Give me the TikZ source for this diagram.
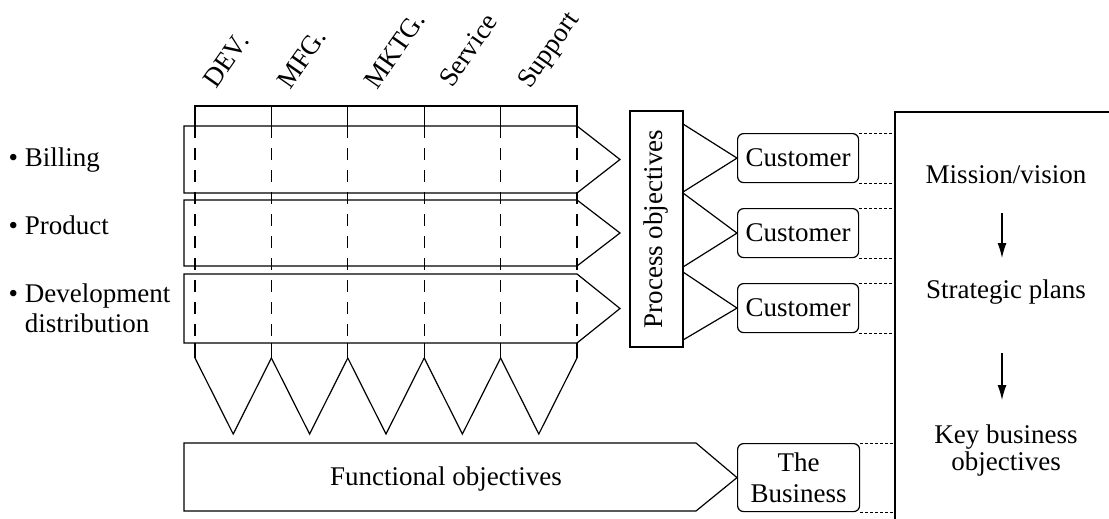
\documentclass[tikz,border=0pt]{standalone}
\usepackage{fontspec}
\setmainfont{Liberation Serif}
\usetikzlibrary{arrows.meta}
\begin{document}
\begin{tikzpicture}[x=1pt,y=-1pt,line width=1.2pt,
  every node/.style={font=\fontsize{27}{29}\selectfont},
  custbox/.style={draw,rounded corners=6pt,minimum width=121pt,minimum height=49pt,
                  inner sep=0pt,anchor=north west},
  tiedots/.style={line width=1pt,dash pattern=on 2.5pt off 2.5pt},
  colline/.style={dash pattern=on 12pt off 10pt},
  colhead/.style={rotate=55,anchor=base west,inner sep=0pt},
  sidetext/.style={inner sep=0pt,align=left},
  flow/.style={-{Latex[length=15pt,width=9pt]},line width=1.2pt}]
\useasboundingbox (0,0) rectangle (1109,519);

% column headings
\node[colhead] (h1) at (216,90) {DEV.};
\node[colhead] (h2) at (290,91) {MFG.};
\node[colhead] (h3) at (377,91) {MKTG.};
\node[colhead] (h4) at (452,89) {Service};
\node[colhead] (h5) at (530,90) {Support};

% heading frame above the process rows
\draw (195,126) -- (195,106) -- (577,106) -- (577,126);
\foreach \i in {1,...,4} \draw ({195+76.4*\i},106) -- ++(0,20);

% process rows drawn as arrows
\foreach \t/\b in {126/193,200/266,274/343}
  \draw (184,\t) -- (577,\t) -- (620,{(\t+\b)/2}) -- (577,\b) -- (184,\b) -- cycle;

% functional columns running through the rows
\foreach \i in {0,...,5} {
  \draw[colline] ({195+76.4*\i},126) -- ({195+76.4*\i},343);
  \draw ({195+76.4*\i},343) -- ({195+76.4*\i},358);
}
\foreach \i in {0,...,4}
  \draw ({195+76.4*\i},358) -- ({233.2+76.4*\i},434) -- ({271.4+76.4*\i},358);

% row labels
\node[sidetext,anchor=base west] (r1) at (8,166) {\textbullet\ Billing};
\node[sidetext,anchor=base west] (r2) at (8,234) {\textbullet\ Product};
\node[sidetext,anchor=west,font=\fontsize{27}{30}\selectfont] (r3) at (8,308)
  {\textbullet\ Development\\\hphantom{\textbullet\ }distribution};

% process objectives
\node[draw,rotate=90,minimum width=236pt,minimum height=53pt,inner sep=0pt]
  (proc) at (656.5,229) {Process objectives};

% customers
\node[custbox] (c1) at (737,133) {Customer};
\node[custbox] (c2) at (737,208) {Customer};
\node[custbox] (c3) at (737,283) {Customer};
\draw (683,124) -- (c1.west) -- (683,192);
\draw (683,193) -- (c2.west) -- (683,267);
\draw (683,272) -- (c3.west) -- (683,340);

% functional objectives and the business
\node[custbox,minimum width=122pt,minimum height=68pt,align=center,
      font=\fontsize{27}{31}\selectfont] (biz) at (737,443) {The\\Business};
\draw (184,443) -- (696,443) -- (biz.west) -- (696,511) -- (184,511) -- cycle;
\node[anchor=base] (func) at (446,485) {Functional objectives};

% strategy frame
\coordinate (frame) at (895,112);
\draw (1109,112) -- (frame) -- (895,519);
\foreach \n in {c1,c2,c3,biz} {
  \draw[tiedots] (\n.north east) -- (\n.north east -| frame);
  \draw[tiedots] (\n.south east) -- (\n.south east -| frame);
}
\node[anchor=base] (mv) at (1006,183) {Mission/vision};
\node[anchor=base] (sp) at (1006,298) {Strategic plans};
\node[align=center,font=\fontsize{27}{27}\selectfont] (kb) at (1006,451)
  {Key business\\objectives};
\draw[flow] ([shift={(-4,30)}]mv.base) -- ([shift={(-4,-40)}]sp.base);
\draw[flow] ([shift={(-4,55)}]sp.base) -- ([shift={(-4,-51)}]kb.center);
\end{tikzpicture}
\end{document}
